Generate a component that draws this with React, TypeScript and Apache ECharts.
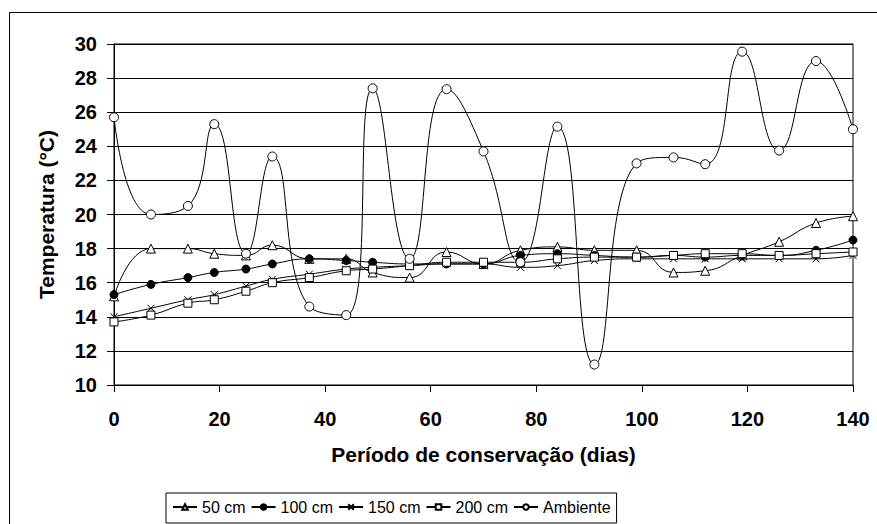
import React, { useEffect, useRef } from "react";
import * as echarts from "echarts";

const days = [0, 7, 14, 19, 25, 30, 37, 44, 49, 56, 63, 70, 77, 84, 91, 99, 106, 112, 119, 126, 133, 140];
const s50 = [15.2, 18.0, 18.0, 17.7, 17.6, 18.2, 17.4, 17.4, 16.6, 16.3, 17.8, 17.1, 17.9, 18.1, 17.9, 17.9, 16.6, 16.7, 17.6, 18.4, 19.5, 19.9];
const s100 = [15.3, 15.9, 16.3, 16.6, 16.8, 17.1, 17.4, 17.3, 17.2, 17.1, 17.1, 17.1, 17.6, 17.7, 17.6, 17.5, 17.6, 17.5, 17.6, 17.6, 17.9, 18.5];
const s150 = [14.0, 14.5, 15.0, 15.3, 15.8, 16.2, 16.5, 16.8, 16.9, 17.0, 17.1, 17.1, 16.9, 17.0, 17.3, 17.4, 17.4, 17.4, 17.4, 17.4, 17.4, 17.6];
const s200 = [13.7, 14.1, 14.8, 15.0, 15.5, 16.0, 16.3, 16.7, 16.8, 17.0, 17.2, 17.2, 17.2, 17.4, 17.5, 17.5, 17.6, 17.7, 17.7, 17.6, 17.7, 17.8];
const ambiente = [25.7, 20.0, 20.5, 25.3, 17.7, 23.4, 14.6, 14.1, 27.4, 17.4, 27.35, 23.7, 17.2, 25.15, 11.2, 23.0, 23.35, 22.95, 29.55, 23.75, 29.0, 25.0];

const seriesNames = ["50 cm", "100 cm", "150 cm", "200 cm", "Ambiente"];
const xAxisTitle = "Período de conservação (dias)";
const yAxisTitle = "Temperatura (°C)";

const FONT = "'Liberation Sans', Arial, sans-serif";

export default function App() {
  const ref = useRef<HTMLDivElement>(null);
  useEffect(() => {
    document.body.style.margin = "0";
    const chart = echarts.init(ref.current!, undefined, { renderer: "svg" });
    const pair = (vals: number[]) => days.map((d, i) => [d, vals[i]]);
    const base = (name: string, vals: number[], symbol: string, size: number, fill: string) => ({
      name,
      type: "line",
      data: pair(vals),
      smooth: 0.5,
      symbol,
      symbolSize: size,
      showSymbol: true,
      lineStyle: { color: "#000", width: 1 },
      itemStyle: { color: fill, borderColor: "#000", borderWidth: 1 },
      emphasis: { disabled: true },
    });
    chart.setOption({
      animation: false,
      backgroundColor: "#fff",
      textStyle: { fontFamily: FONT },
      grid: {
        left: 114,
        right: 24,
        top: 44,
        bottom: 139,
        outerBoundsMode: "none",
        show: true,
        borderColor: "#000",
        borderWidth: 1,
        backgroundColor: "transparent",
      },
      xAxis: {
        type: "value",
        min: 0,
        max: 140,
        interval: 20,
        name: xAxisTitle,
        nameLocation: "middle",
        nameGap: 59,
        nameTextStyle: { fontSize: 21, fontWeight: "bold", color: "#000", fontFamily: FONT },
        axisLine: { show: true, onZero: false, lineStyle: { color: "#000", width: 1 } },
        axisTick: { show: true, inside: false, length: 7, lineStyle: { color: "#000" } },
        axisLabel: { fontSize: 20, fontWeight: "bold", color: "#000", margin: 24, fontFamily: FONT },
        splitLine: { show: false },
      },
      yAxis: {
        type: "value",
        min: 10,
        max: 30,
        interval: 2,
        name: yAxisTitle,
        nameLocation: "middle",
        nameGap: 57,
        nameTextStyle: { fontSize: 21, fontWeight: "bold", color: "#000", fontFamily: FONT },
        axisLine: { show: true, lineStyle: { color: "#000", width: 1 } },
        axisTick: { show: true, inside: false, length: 7, lineStyle: { color: "#000" } },
        axisLabel: { fontSize: 20, fontWeight: "bold", color: "#000", margin: 17, fontFamily: FONT },
        splitLine: { show: true, lineStyle: { color: "#000", width: 1 } },
      },
      legend: {
        left: 166,
        top: 493,
        orient: "horizontal",
        backgroundColor: "#fff",
        borderColor: "#000",
        borderWidth: 1,
        borderRadius: 0,
        padding: [6, 6, 8, 6],
        itemGap: 5,
        itemWidth: 24,
        itemHeight: 7,
        textStyle: { fontSize: 16, color: "#000", fontFamily: FONT },
        data: seriesNames,
      },
      graphic: [
        {
          type: "rect",
          shape: { x: 9.5, y: 12.5, width: 1000, height: 1000 },
          style: { fill: "none", stroke: "#000", lineWidth: 1 },
          silent: true,
          z: -1,
        },
      ],
      series: [
        base(seriesNames[0], s50, "triangle", 9, "#fff"),
        base(seriesNames[1], s100, "circle", 8, "#000"),
        base(seriesNames[2], s150, "path://M0,0L10,10M10,0L0,10", 7, "none"),
        base(seriesNames[3], s200, "rect", 8, "#fff"),
        base(seriesNames[4], ambiente, "circle", 9, "#fff"),
      ],
    });
    return () => chart.dispose();
  }, []);
  return <div ref={ref} style={{ width: 877, height: 524 }} />;
}
